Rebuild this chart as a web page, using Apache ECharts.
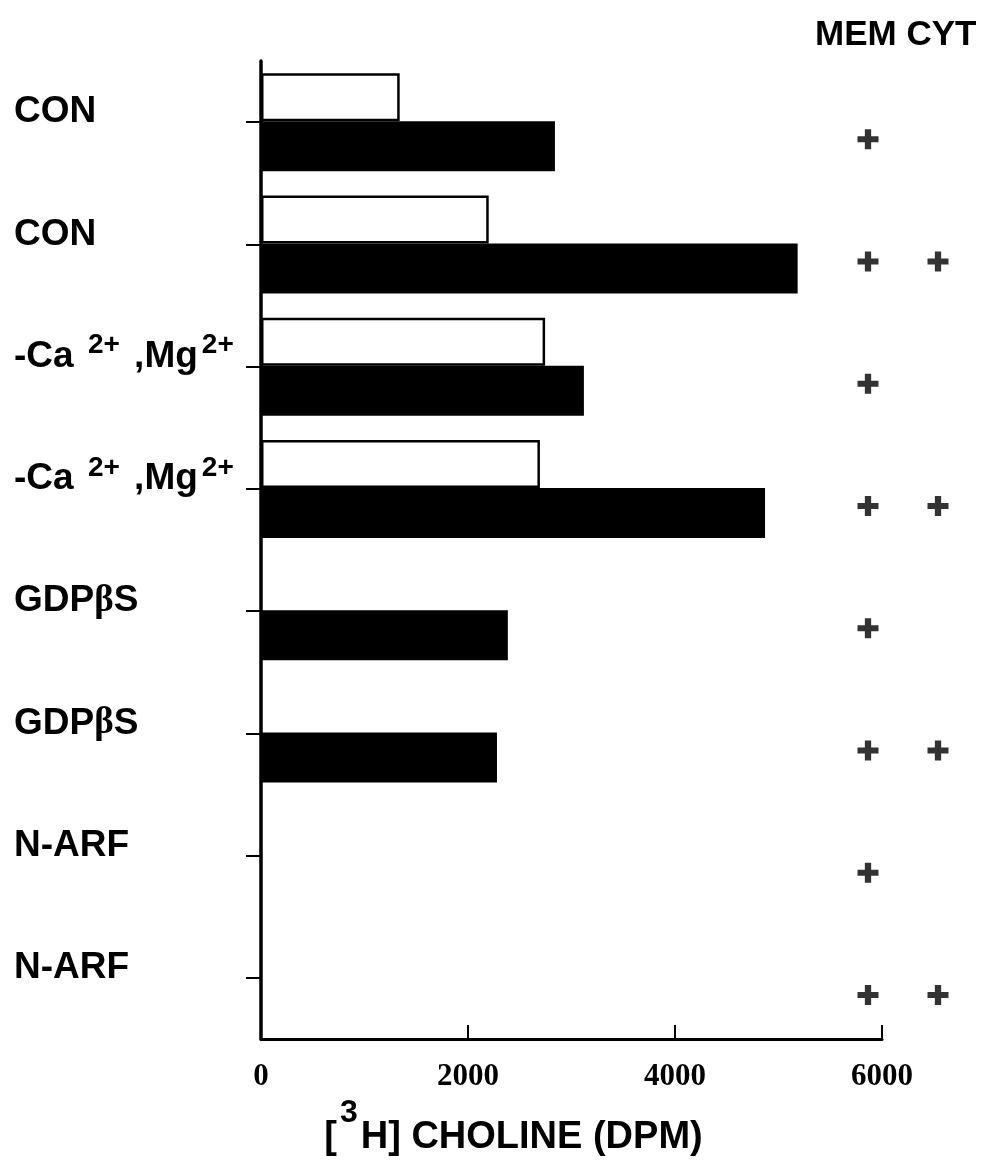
<!DOCTYPE html>
<html>
<head>
<meta charset="utf-8">
<script src="https://cdn.jsdelivr.net/npm/echarts@6/dist/echarts.min.js"></script>
<style>
  html, body { margin: 0; padding: 0; background: #fff; }
  #chart { width: 997px; height: 1170px; }
</style>
</head>
<body>
<div id="chart"></div>
<script>
// Row labels, top to bottom (rich-text markup for superscripts and the Greek beta)
const categories = [
  'CON',
  'CON',
  '{m|-Ca }{s|2+}{m| ,Mg}{s|2+}',
  '{m|-Ca }{s|2+}{m| ,Mg}{s|2+}',
  'GDP{g|β}S',
  'GDP{g|β}S',
  'N-ARF',
  'N-ARF'
];

// [3H] choline, DPM — open bars and filled bars
const openBars   = [1340, 2200, 2745, 2695, null, null, null, null];
const filledBars = [2840, 5185, 3120, 4870, 2385, 2280, null, null];

// Which fractions were present in each row
const memPresent = [1, 1, 1, 1, 1, 1, 1, 1];
const cytPresent = [0, 1, 0, 1, 0, 1, 0, 1];

const xTicks = [0, 2000, 4000, 6000];

const SANS = '"Liberation Sans", Arial, Helvetica, sans-serif';
const SERIF = '"Liberation Serif", "Times New Roman", serif';

// bold plus sign used as the presence marker
const plusPath = 'path://M7,0h6v7h7v6h-7v7h-6v-7h-7v-6h7z';

function markers(present, x) {
  const out = [];
  present.forEach((p, i) => { if (p) out.push([x, i]); });
  return out;
}

const chart = echarts.init(document.getElementById('chart'), null, { renderer: 'canvas' });

chart.setOption({
  animation: false,
  backgroundColor: '#fff',
  title: {
    text: 'MEM CYT',
    left: 815,
    top: 18,
    padding: 0,
    textStyle: { fontFamily: SANS, fontWeight: 'bold', fontSize: 35, color: '#000' }
  },
  grid: [
    { left: 261, top: 61, width: 621, height: 978, outerBoundsMode: 'none', containLabel: false },
    { left: 833, top: 61, width: 140, height: 978, outerBoundsMode: 'none', containLabel: false }
  ],
  xAxis: [
    {
      gridIndex: 0,
      type: 'value',
      min: xTicks[0],
      max: xTicks[xTicks.length - 1],
      interval: 2000,
      splitLine: { show: false },
      axisLine: { show: true, lineStyle: { color: '#000', width: 3 } },
      axisTick: { show: true, inside: true, length: 14, lineStyle: { color: '#000', width: 2 } },
      axisLabel: {
        margin: 22,
        formatter: (v) => String(v),
        fontFamily: SERIF, fontWeight: 'bold', fontSize: 31, color: '#000'
      },
      name: '{b|[}{s|3}{h|H] CHOLINE (DPM)}',
      nameLocation: 'middle',
      nameGap: 76,
      nameTextStyle: {
        padding: [0, 116, 0, 0],
        rich: {
          b: { fontFamily: SANS, fontWeight: 'bold', fontSize: 38, lineHeight: 40, color: '#000' },
          h: { fontFamily: SANS, fontWeight: 'bold', fontSize: 38, lineHeight: 40, color: '#000' },
          s: { fontFamily: SANS, fontWeight: 'bold', fontSize: 32, lineHeight: 20, padding: [0, 3, 50, 3], color: '#000' }
        }
      }
    },
    {
      gridIndex: 1,
      type: 'value',
      min: 0,
      max: 2,
      show: false
    }
  ],
  yAxis: [
    {
      gridIndex: 0,
      type: 'category',
      inverse: true,
      data: categories,
      axisLine: { show: true, lineStyle: { color: '#000', width: 3.5 } },
      axisTick: { show: true, alignWithLabel: true, length: 15, lineStyle: { color: '#000', width: 2 } },
      splitLine: { show: false },
      axisLabel: {
        align: 'left',
        verticalAlign: 'bottom',
        margin: 247,
        fontFamily: SANS, fontWeight: 'bold', fontSize: 37, lineHeight: 20, color: '#000',
        rich: {
          m: { fontFamily: SANS, fontWeight: 'bold', fontSize: 37, lineHeight: 20, color: '#000' },
          s: { fontFamily: SANS, fontWeight: 'bold', fontSize: 28, lineHeight: 10, padding: [0, 4, 22, 4], color: '#000' },
          g: { fontFamily: SERIF, fontWeight: 'bold', fontSize: 37, lineHeight: 20, color: '#000' }
        }
      }
    },
    {
      gridIndex: 1,
      type: 'category',
      inverse: true,
      data: categories,
      show: false
    }
  ],
  series: [
    {
      name: 'open',
      type: 'bar',
      xAxisIndex: 0, yAxisIndex: 0,
      data: openBars,
      barWidth: 48,
      barGap: '0%',
      itemStyle: { color: '#fff', borderColor: '#000', borderWidth: 2.5 }
    },
    {
      name: 'filled',
      type: 'bar',
      xAxisIndex: 0, yAxisIndex: 0,
      data: filledBars,
      barWidth: 50,
      barGap: '0%',
      itemStyle: { color: '#000' }
    },
    {
      name: 'MEM',
      type: 'scatter',
      xAxisIndex: 1, yAxisIndex: 1,
      data: markers(memPresent, 0.5),
      symbol: plusPath,
      symbolSize: [21, 20],
      symbolOffset: [0, 17],
      itemStyle: { color: '#000' }
    },
    {
      name: 'CYT',
      type: 'scatter',
      xAxisIndex: 1, yAxisIndex: 1,
      data: markers(cytPresent, 1.5),
      symbol: plusPath,
      symbolSize: [21, 20],
      symbolOffset: [0, 17],
      itemStyle: { color: '#000' }
    }
  ]
});
</script>
</body>
</html>
